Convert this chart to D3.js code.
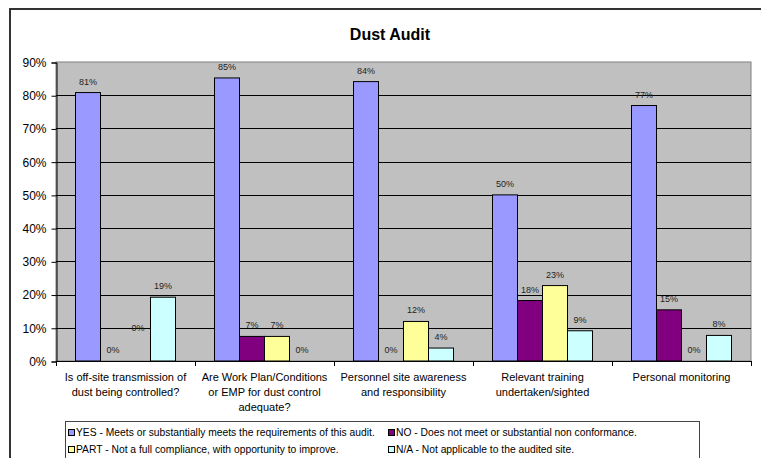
<!DOCTYPE html>
<html>
<head>
<meta charset="utf-8">
<script src="https://cdn.jsdelivr.net/npm/d3@7"></script>
<style>
  body { margin: 0; background: #fff; }
  text { font-family: Arial, "Liberation Sans", sans-serif; }
</style>
</head>
<body>
<svg id="chart" width="761" height="458"></svg>
<script>
// categories (line breaks as in the original chart)
const categories = [
  "Is off-site transmission of\ndust being controlled?",
  "Are Work Plan/Conditions\nor EMP for dust control\nadequate?",
  "Personnel site awareness\nand responsibility",
  "Relevant training\nundertaken/sighted",
  "Personal monitoring"
];
const seriesNames = ["YES", "NO", "PART", "N/A"];
const legendLabels = [
  "YES - Meets or substantially meets the requirements of this audit.",
  "NO - Does not meet or substantial non conformance.",
  "PART - Not a full compliance, with opportunity to improve.",
  "N/A - Not applicable to the audited site."
];
// values per series, one per category
const yesValues  = [0.808, 0.852, 0.841, 0.500, 0.769];
const noValues   = [0.000, 0.074, 0.000, 0.182, 0.154];
const partValues = [0.000, 0.074, 0.119, 0.227, 0.000];
const naValues   = [0.192, 0.000, 0.039, 0.091, 0.077];
const yTicks = [0, 0.1, 0.2, 0.3, 0.4, 0.5, 0.6, 0.7, 0.8, 0.9];

const colors = {"YES": "#9999ff", "NO": "#800080", "PART": "#ffff99", "N/A": "#ccffff"};
const allValues = {"YES": yesValues, "NO": noValues, "PART": partValues, "N/A": naValues};

const svg = d3.select("#chart");
const plot = {left: 56, top: 62, right: 751, bottom: 361};

// chart area border
svg.append("rect")
    .attr("x", 10).attr("y", 9)
    .attr("width", 790).attr("height", 480)
    .attr("fill", "#fff")
    .attr("stroke", "#333").attr("stroke-width", 2);

svg.append("text")
    .attr("x", 390).attr("y", 40)
    .attr("text-anchor", "middle")
    .attr("font-size", 16).attr("font-weight", "bold")
    .text("Dust Audit");

const x0 = d3.scaleBand().domain(categories).range([plot.left, plot.right]);
const x1 = d3.scaleBand().domain(seriesNames).range([0, x0.bandwidth()]).paddingInner(0).paddingOuter(0.78);
const y = d3.scaleLinear().domain([0, 0.9]).range([plot.bottom, plot.top]);

// plot area
svg.append("rect")
    .attr("x", plot.left).attr("y", plot.top)
    .attr("width", plot.right - plot.left).attr("height", plot.bottom - plot.top)
    .attr("fill", "#c0c0c0").attr("stroke", "#808080");

// gridlines
svg.append("g")
  .selectAll("line")
  .data(yTicks.filter(d => d > 0 && d < 0.9))
  .enter().append("line")
    .attr("x1", plot.left).attr("x2", plot.right)
    .attr("y1", d => Math.round(y(d)) + 0.5).attr("y2", d => Math.round(y(d)) + 0.5)
    .attr("stroke", "#000");

// y axis
const yAxis = svg.append("g")
    .attr("transform", "translate(" + (plot.left + 0.5) + ",0.5)")
    .call(d3.axisLeft(y).tickValues(yTicks).tickFormat(d3.format(".0%")).tickSize(5).tickPadding(5));
yAxis.select(".domain").attr("stroke", "#000");
yAxis.selectAll("text").attr("font-size", 12).attr("fill", "#000")
    .attr("font-family", "Arial, 'Liberation Sans', sans-serif");

// x axis line and ticks at category boundaries
svg.append("line")
    .attr("x1", plot.left).attr("x2", plot.right)
    .attr("y1", plot.bottom + 0.5).attr("y2", plot.bottom + 0.5)
    .attr("stroke", "#000");
const boundaries = categories.map(c => x0(c)).concat([plot.right]);
svg.append("g").selectAll("line")
  .data(boundaries)
  .enter().append("line")
    .attr("x1", d => Math.round(d) + 0.5).attr("x2", d => Math.round(d) + 0.5)
    .attr("y1", plot.bottom).attr("y2", plot.bottom + 5)
    .attr("stroke", "#000");

// category labels
const catLabels = svg.append("g").selectAll("text")
  .data(categories)
  .enter().append("text")
    .attr("text-anchor", "middle")
    .attr("font-size", 11)
    .attr("fill", "#000");
catLabels.each(function(c) {
    const lines = c.split("\n");
    const t = d3.select(this);
    lines.forEach((ln, i) => {
        t.append("tspan")
          .attr("x", x0(c) + x0.bandwidth() / 2)
          .attr("y", 381 + i * 15)
          .text(ln);
    });
});

// bars
const rows = [];
categories.forEach((c, ci) => {
    seriesNames.forEach(s => rows.push({cat: c, ci: ci, series: s, value: allValues[s][ci]}));
});

const groups = svg.append("g").selectAll("g")
  .data(categories)
  .enter().append("g")
    .attr("transform", c => "translate(" + x0(c) + ",0)");

groups.selectAll("rect")
  .data(c => rows.filter(r => r.cat === c && r.value > 0))
  .enter().append("rect")
    .attr("x", d => x1(d.series))
    .attr("y", d => y(d.value))
    .attr("width", x1.bandwidth())
    .attr("height", d => y(0) - y(d.value))
    .attr("fill", d => colors[d.series])
    .attr("stroke", "#000").attr("stroke-width", 1);

// data labels (Excel put one zero label higher than the rest)
const labelLift = {"0-PART": 22};
groups.selectAll("text")
  .data(c => rows.filter(r => r.cat === c))
  .enter().append("text")
    .attr("x", d => x1(d.series) + x1.bandwidth() / 2)
    .attr("y", d => y(d.value) - 8 - (labelLift[d.ci + "-" + d.series] || 0))
    .attr("text-anchor", "middle")
    .attr("font-size", 9)
    .attr("fill", "#222")
    .text(d => d3.format(".0%")(d.value));

// legend
svg.append("rect")
    .attr("x", 65.5).attr("y", 421.5)
    .attr("width", 634).attr("height", 60)
    .attr("fill", "#fff").attr("stroke", "#444");

const legendPos = [
  {x: 68, y: 432}, {x: 388, y: 432},
  {x: 68, y: 449}, {x: 388, y: 449}
];
const legend = svg.append("g").selectAll("g")
  .data(seriesNames)
  .enter().append("g")
    .attr("transform", (d, i) => "translate(" + legendPos[i].x + "," + legendPos[i].y + ")");
legend.append("rect")
    .attr("x", 0.5).attr("y", -2.5)
    .attr("width", 6).attr("height", 6)
    .attr("fill", d => colors[d]).attr("stroke", "#000");
legend.append("text")
    .attr("x", 8).attr("y", 3.5)
    .attr("font-size", 10.3)
    .attr("fill", "#000")
    .text((d, i) => legendLabels[i]);
</script>
</body>
</html>
